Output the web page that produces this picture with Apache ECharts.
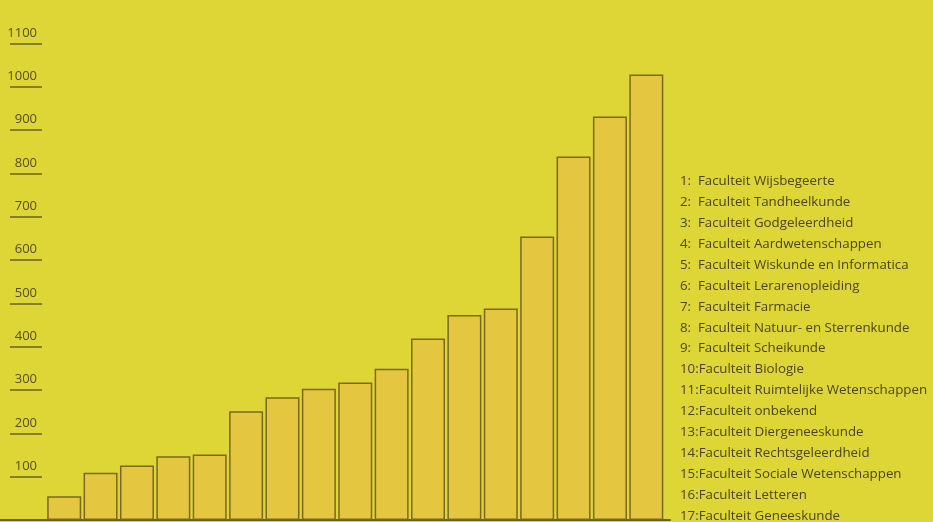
<!DOCTYPE html>
<html>
<head>
<meta charset="utf-8">
<script src="https://cdn.jsdelivr.net/npm/echarts@6/dist/echarts.min.js"></script>
<style>
html,body{margin:0;padding:0;background:#ded636;}
#chart{width:933px;height:522px;}
</style>
</head>
<body>
<div id="chart"></div>
<script>
const categories = ['1','2','3','4','5','6','7','8','9','10','11','12','13','14','15','16','17'];
const values = [55, 109, 126, 147, 151, 251, 283, 303, 317, 349, 419, 473, 488, 654, 839, 931, 1028];
const faculties = [
  'Faculteit Wijsbegeerte',
  'Faculteit Tandheelkunde',
  'Faculteit Godgeleerdheid',
  'Faculteit Aardwetenschappen',
  'Faculteit Wiskunde en Informatica',
  'Faculteit Lerarenopleiding',
  'Faculteit Farmacie',
  'Faculteit Natuur- en Sterrenkunde',
  'Faculteit Scheikunde',
  'Faculteit Biologie',
  'Faculteit Ruimtelijke Wetenschappen',
  'Faculteit onbekend',
  'Faculteit Diergeneeskunde',
  'Faculteit Rechtsgeleerdheid',
  'Faculteit Sociale Wetenschappen',
  'Faculteit Letteren',
  'Faculteit Geneeskunde'
];
const yTicks = [100,200,300,400,500,600,700,800,900,1000,1100];

const legendText = categories.map((c, i) => c + ':' + (Number(c) < 10 ? '  ' : '') + faculties[i]).join('\n');

const chart = echarts.init(document.getElementById('chart'));
chart.setOption({
  backgroundColor: '#ded636',
  animation: false,
  title: {
    text: legendText,
    left: 680,
    top: 171,
    padding: 0,
    textStyle: {
      fontFamily: 'Open Sans',
      fontSize: 13.3,
      fontWeight: 'normal',
      color: '#4c4518',
      lineHeight: 20.9
    }
  },
  grid: [
    {left: 46, right: 268.5, top: 43.3, bottom: 2, containLabel: false},
    {left: 0, right: 263, top: 43.3, bottom: 2, containLabel: false}
  ],
  xAxis: [
    {
      type: 'category', gridIndex: 0, data: categories,
      axisLine: {show: false}, axisTick: {show: false}, axisLabel: {show: false}
    },
    {
      type: 'value', gridIndex: 1, min: 0, max: 1,
      axisLine: {show: true, lineStyle: {color: '#6e5e1c', width: 2}},
      axisTick: {show: false}, axisLabel: {show: false}, splitLine: {show: false}
    }
  ],
  yAxis: [
    {
      type: 'value', gridIndex: 0, min: 0, max: 1100, interval: 100,
      position: 'left', offset: 4,
      axisLine: {show: false},
      axisTick: {show: true, length: 32, lineStyle: {color: '#6b6020', width: 1.5}},
      splitLine: {show: false},
      axisLabel: {
        margin: 5,
        verticalAlign: 'bottom',
        padding: [0, 0, 4, 0],
        fontFamily: 'Open Sans',
        fontSize: 13,
        color: '#554e1a',
        formatter: v => yTicks.includes(v) ? String(v) : ''
      }
    },
    {
      type: 'value', gridIndex: 1, min: 0, max: 1, show: false
    }
  ],
  series: [{
    type: 'bar',
    xAxisIndex: 0, yAxisIndex: 0,
    data: values,
    barWidth: 34,
    itemStyle: {
      color: '#e4c640',
      borderColor: '#7a6822',
      borderWidth: 1.5
    }
  }]
});
</script>
</body>
</html>
